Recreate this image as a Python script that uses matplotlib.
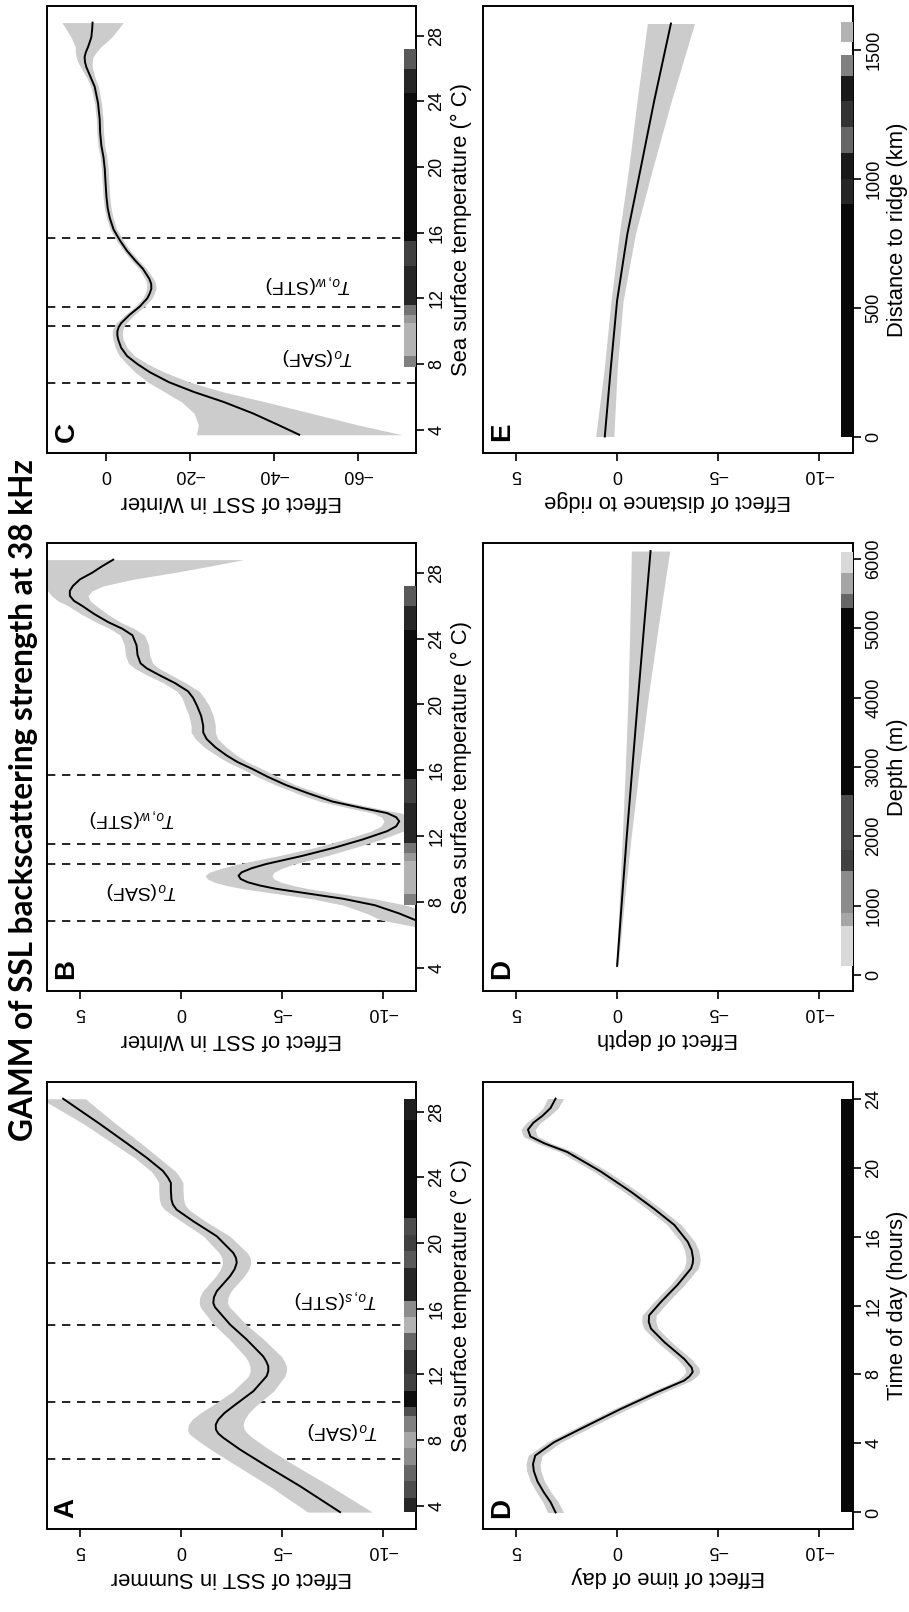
import matplotlib
matplotlib.use("Agg")
import matplotlib.pyplot as plt
from matplotlib.patches import Rectangle

plt.rcParams['font.family'] = ['Liberation Sans', 'DejaVu Sans']
plt.rcParams['mathtext.fontset'] = 'custom'
plt.rcParams['mathtext.rm'] = 'Liberation Sans'
plt.rcParams['mathtext.it'] = 'Liberation Sans:italic'
plt.rcParams['axes.unicode_minus'] = True

# ---------------- data ----------------
title = "GAMM of SSL backscattering strength at 38 kHz"

# Panel A: SST in summer
sstA = [3.62, 5.2, 6.42, 7.43, 8.14, 8.4, 8.65, 8.95, 9.26, 9.65, 10.07, 10.98, 11.9, 12.2, 12.5, 12.8,
        13.1, 14.13, 15.04, 15.86, 16.1, 16.36, 16.7, 17.07, 17.99, 18.4, 18.8, 19.1, 19.4, 20.42, 21.33,
        22.04, 22.35, 22.65, 23.2, 23.67, 24.0, 24.39, 25.2, 26.1, 27.26, 28.79]
fitA = [-7.87, -5.89, -4.24, -2.92, -2.1, -1.85, -1.73, -1.72, -1.85, -2.15, -2.59, -3.58, -4.24, -4.32,
        -4.32, -4.22, -4.07, -3.25, -2.43, -1.85, -1.68, -1.6, -1.63, -1.77, -2.43, -2.65, -2.76, -2.72,
        -2.59, -1.77, -0.61, 0.22, 0.4, 0.47, 0.5, 0.5, 0.65, 0.89, 1.7, 2.7, 4.02, 5.83]
ciA = [1.6, 1.5, 1.45, 1.45, 1.45, 1.45, 1.4, 1.35, 1.3, 1.2, 1.1, 1.0, 0.9, 0.9, 0.9, 0.9, 0.9, 0.85,
       0.8, 0.75, 0.72, 0.7, 0.7, 0.7, 0.7, 0.7, 0.7, 0.7, 0.7, 0.65, 0.6, 0.6, 0.6, 0.6, 0.6, 0.6, 0.6,
       0.6, 0.6, 0.7, 0.8, 1.1]
frontsA = [6.85, 10.3, 15.0, 18.8]

# Panel B: SST in winter
sstB = [6.0, 6.5, 6.9, 7.3, 7.8, 8.2, 8.6, 8.8, 9.0, 9.2, 9.4, 9.6, 9.8, 10.05, 10.3, 10.8, 11.3, 11.8,
        12.3, 12.6, 12.9, 13.15, 13.4, 13.7, 14.1, 14.6, 15.1, 15.6, 16.1, 16.5, 16.9, 17.4, 17.9, 18.3,
        18.7, 19.3, 19.9, 20.4, 20.8, 21.3, 21.8, 22.2, 22.5, 23.0, 23.6, 24.2, 24.6, 25.0, 25.5, 26.0,
        26.3, 26.6, 26.9, 27.2, 27.6, 28.0, 28.4, 28.8]
fitB = [-15.5, -13.5, -11.6, -10.8, -9.6, -8.0, -5.8, -4.7, -3.9, -3.3, -2.95, -2.85, -3.0, -3.5, -4.2,
        -6.0, -7.6, -9.0, -10.2, -10.65, -10.8, -10.65, -10.2, -9.0, -7.5, -6.3, -5.2, -4.3, -3.5, -2.8,
        -2.26, -1.7, -1.27, -1.1, -1.1, -1.0, -0.8, -0.6, -0.35, 0.3, 1.1, 1.7, 2.0, 2.15, 2.2, 2.4, 2.9,
        3.6, 4.3, 4.9, 5.3, 5.5, 5.5, 5.35, 5.0, 4.4, 3.9, 3.35]
ciB = [2.0, 1.9, 1.7, 1.6, 1.55, 1.55, 1.6, 1.62, 1.65, 1.65, 1.65, 1.65, 1.6, 1.5, 1.4, 1.2, 1.0, 0.9,
       0.8, 0.75, 0.75, 0.72, 0.7, 0.65, 0.6, 0.55, 0.5, 0.5, 0.5, 0.5, 0.5, 0.55, 0.55, 0.6, 0.6, 0.6,
       0.6, 0.55, 0.55, 0.55, 0.6, 0.6, 0.6, 0.6, 0.6, 0.6, 0.6, 0.6, 0.65, 0.7, 0.8, 0.9, 1.1, 1.5,
       2.6, 4.0, 5.3, 6.45]
frontsW = [6.85, 10.3, 11.5, 15.7]

# Panel C: SST in winter (full range)
sstC = [3.7, 4.3, 5.0, 5.7, 6.3, 6.9, 7.5, 8.0, 8.5, 9.0, 9.5, 9.75, 10.0, 10.25, 10.5, 11.0, 11.5, 12.0,
        12.3, 12.6, 12.9, 13.2, 13.8, 14.3, 14.9, 15.5, 16.2, 16.9, 17.5, 18.2, 19.0, 19.9, 20.6, 21.3,
        22.1, 22.9, 23.9, 24.9, 25.5, 26.1, 26.4, 26.7, 27.0, 27.3, 27.9, 28.4, 28.8]
fitC = [-46, -41, -35, -28, -21, -15, -10.5, -7.5, -5.0, -3.6, -2.9, -2.7, -2.7, -3.0, -3.6, -5.6, -8.0,
        -9.8, -10.4, -10.8, -10.75, -10.3, -8.8, -7.0, -5.0, -3.4, -1.8, -0.9, -0.4, -0.1, 0.1, 0.3, 0.6,
        1.1, 1.4, 1.5, 1.9, 2.7, 3.7, 4.7, 5.0, 5.1, 4.8, 4.3, 3.5, 3.3, 3.2]
ciC = [24.5, 19, 14, 10, 7, 5, 3.5, 2.5, 1.8, 1.4, 1.2, 1.2, 1.2, 1.2, 1.2, 1.1, 1.1, 1.1, 1.1, 1.1,
       1.05, 1.0, 0.9, 0.9, 0.8, 0.8, 0.8, 0.8, 0.8, 0.8, 0.8, 0.8, 0.8, 0.8, 0.8, 0.8, 0.8, 0.9, 1.0,
       1.4, 1.7, 2.0, 2.5, 3.0, 4.8, 6.2, 7.3]

# Panel D: time of day
timeD = [0.0, 0.6, 1.16, 1.8, 2.4, 2.8, 3.3, 4.07, 5.04, 6.0, 6.98, 7.65, 7.9, 8.14, 8.4, 8.9, 9.88,
         10.66, 11.05, 11.43, 12.2, 13.2, 14.15, 14.45, 14.7, 15.2, 15.7, 16.67, 17.6, 18.6, 19.77, 20.9,
         21.4, 21.8, 22.2, 22.6, 23.0, 23.45, 24.0]
fitTime = [3.05, 3.3, 3.63, 3.95, 4.13, 4.17, 4.06, 3.13, 1.48, -0.18, -2.0, -3.33, -3.6, -3.75, -3.7,
           -3.33, -2.34, -1.68, -1.57, -1.59, -2.17, -3.0, -3.67, -3.75, -3.77, -3.7, -3.5, -2.84, -1.84,
           -0.68, 0.81, 2.47, 3.6, 4.3, 4.42, 4.15, 3.7, 3.3, 3.05]
ciTime = [0.4, 0.38, 0.36, 0.35, 0.35, 0.35, 0.35, 0.35, 0.35, 0.35, 0.35, 0.35, 0.35, 0.35, 0.35, 0.35,
          0.35, 0.35, 0.35, 0.35, 0.35, 0.35, 0.35, 0.35, 0.35, 0.35, 0.35, 0.35, 0.35, 0.35, 0.35, 0.35,
          0.35, 0.35, 0.35, 0.35, 0.36, 0.38, 0.4]

# Panel D: depth
depthD = [130, 1000, 2000, 3000, 4000, 5000, 6116]
fitDepth = [0.0, -0.22, -0.48, -0.76, -1.04, -1.33, -1.66]
ciDepth = [0.05, 0.12, 0.22, 0.35, 0.5, 0.7, 0.95]

# Panel E: distance to ridge
distE = [0, 268, 527, 786, 1044, 1302, 1602]
fitDist = [0.61, 0.31, 0.0, -0.51, -1.18, -1.84, -2.67]
ciDist = [0.45, 0.32, 0.3, 0.4, 0.6, 0.85, 1.17]

# rugs: (start, end, darkness)
rugSummer = [(3.6, 4.5, 0.85), (4.5, 5.5, 0.7), (5.5, 6.5, 0.6), (6.5, 7.5, 0.45), (7.5, 8.5, 0.35),
             (8.5, 9.5, 0.5), (9.5, 10.0, 0.7), (10.0, 11.0, 0.95), (11.0, 12.0, 0.75), (12.0, 13.5, 0.8),
             (13.5, 14.5, 0.6), (14.5, 15.5, 0.3), (15.5, 16.5, 0.45), (16.5, 18.5, 0.85), (18.5, 19.5, 0.65),
             (19.5, 20.5, 0.75), (20.5, 21.5, 0.7), (21.5, 27.5, 0.95), (27.5, 28.8, 0.88)]
rugWinter = [(7.8, 8.5, 0.5), (8.5, 10.5, 0.3), (10.5, 11.0, 0.4), (11.0, 11.6, 0.55), (11.6, 14.0, 0.85),
             (14.0, 15.5, 0.75), (15.5, 24.5, 0.95), (24.5, 26.0, 0.85), (26.0, 27.2, 0.65)]
rugTime = [(0, 24, 0.97)]
rugDepth = [(130, 700, 0.15), (700, 900, 0.35), (900, 1500, 0.45), (1500, 1800, 0.75), (1800, 2600, 0.7),
            (2600, 5300, 0.97), (5300, 5500, 0.6), (5500, 5800, 0.35), (5800, 6100, 0.15)]
rugDist = [(0, 900, 0.97), (900, 1000, 0.85), (1000, 1100, 0.9), (1100, 1200, 0.6), (1200, 1300, 0.8),
           (1300, 1400, 0.9), (1400, 1480, 0.5), (1530, 1606, 0.3)]

effTicks = [5, 0, -5, -10]
effLabels = ['5', '0', '\u22125', '\u221210']
effTicksC = [0, -20, -40, -60]
effLabelsC = ['0', '\u221220', '\u221240', '\u221260']
sstTicks = [4, 8, 12, 16, 20, 24, 28]
timeTicks = [0, 4, 8, 12, 16, 20, 24]
depthTicks = [0, 1000, 2000, 3000, 4000, 5000, 6000]
distTicks = [0, 500, 1000, 1500]

# ---------------- layout ----------------
W, H = 909, 1612
fig = plt.figure(figsize=(W / 100, H / 100), dpi=100)


def rect(l, r, t, b):
    return [l / W, 1 - b / H, (r - l) / W, (b - t) / H]


BAND = '#CCCCCC'
TICK_FS = 13
LAB_FS = 15.8
NOTE_FS = 14


def panel(r, x, fit, ci, elim, eticks, elabels, ylim, yticks, xlabel, ylabel, letter, rug,
          fronts=None, notes=None):
    ax = fig.add_axes(r)
    lo = [f - c for f, c in zip(fit, ci)]
    hi = [f + c for f, c in zip(fit, ci)]
    if fronts:
        for v in fronts:
            ax.axhline(v, color='black', lw=1.2, ls=(0, (5, 4)), zorder=0.5)
    ax.fill_betweenx(x, lo, hi, color=BAND, lw=0, zorder=1)
    ax.plot(fit, x, color='black', lw=1.4, zorder=2, solid_joinstyle='round')
    for a, b, d in rug:
        g = 1 - d
        ax.add_patch(Rectangle((0.967, a), 0.033, b - a, transform=ax.get_yaxis_transform(),
                               facecolor=(g, g, g), edgecolor='none', zorder=3))
    if notes:
        for (ex, sy, txt) in notes:
            ax.text(ex, sy, txt, rotation=180, ha='center', va='center', fontsize=NOTE_FS, zorder=4)
    ax.set_xlim(elim)
    ax.set_ylim(ylim)
    ax.set_xticks(eticks)
    ax.set_xticklabels(elabels)
    ax.set_yticks(yticks)
    ax.set_yticklabels([str(v) for v in yticks])
    ax.yaxis.tick_right()
    ax.tick_params(axis='x', direction='out', length=5.8, width=1.2, pad=3.5, labelsize=TICK_FS,
                   labelrotation=180)
    ax.tick_params(axis='y', direction='out', length=5.8, width=1.2, pad=3.0, labelsize=TICK_FS,
                   labelrotation=90, left=False, right=True, labelleft=False, labelright=True)
    for lab in ax.get_yticklabels():
        lab.set_va('center')
        lab.set_ha('left')
    for s in ax.spines.values():
        s.set_linewidth(1.4)
    ax.set_xlabel(xlabel, rotation=180, fontsize=LAB_FS, ha='center', va='center')
    ax.xaxis.set_label_coords(0.5, -48 / (r[3] * H))
    ax.yaxis.set_label_position('right')
    ax.set_ylabel(ylabel, rotation=90, fontsize=LAB_FS, ha='center', va='center')
    ax.yaxis.set_label_coords(1 + 45 / (r[2] * W), 0.5)
    ax.text(0.053, 0.048, letter, transform=ax.transAxes, rotation=90, ha='center', va='center',
            fontsize=20, fontweight='bold', zorder=5)
    return ax


L = (47, 416)
R = (483, 853)
ROW0 = (6, 453)
ROW1 = (543, 991)
ROW2 = (1082, 1529)
sstLim = (2.59, 29.81)
sstLab = 'Sea surface temperature (\u00b0 C)'

panel(rect(L[0], L[1], *ROW2), sstA, fitA, ciA, (6.63, -11.63), effTicks, effLabels, sstLim, sstTicks,
      'Effect of SST in Summer', sstLab, 'A', rugSummer, frontsA,
      [(-8.0, 8.6, r'$T_o$(SAF)'), (-7.7, 16.6, r'$T_{o,s}$(STF)')])
panel(rect(L[0], L[1], *ROW1), sstB, fitB, ciB, (6.63, -11.63), effTicks, effLabels, sstLim, sstTicks,
      'Effect of SST in Winter', sstLab, 'B', rugWinter, frontsW,
      [(1.9, 8.7, r'$T_o$(SAF)'), (2.4, 13.1, r'$T_{o,w}$(STF)')])
panel(rect(L[0], L[1], *ROW0), sstC, fitC, ciC, (14.05, -73.8), effTicksC, effLabelsC, sstLim, sstTicks,
      'Effect of SST in Winter', sstLab, 'C', rugWinter, frontsW,
      [(-50.5, 8.45, r'$T_o$(SAF)'), (-48.3, 12.9, r'$T_{o,w}$(STF)')])
panel(rect(R[0], R[1], *ROW2), timeD, fitTime, ciTime, (6.65, -11.7), effTicks, effLabels, (-0.96, 24.96),
      timeTicks, 'Effect of time of day', 'Time of day (hours)', 'D', rugTime)
panel(rect(R[0], R[1], *ROW1), depthD, fitDepth, ciDepth, (6.65, -11.7), effTicks, effLabels, (-232, 6232),
      depthTicks, 'Effect of depth', 'Depth (m)', 'D', rugDepth)
panel(rect(R[0], R[1], *ROW0), distE, fitDist, ciDist, (6.65, -11.7), effTicks, effLabels, (-64, 1670),
      distTicks, 'Effect of distance to ridge', 'Distance to ridge (km)', 'E', rugDist)

t = fig.text(24 / W, 1 - 800 / H, title, rotation=90, ha='center', va='center', fontsize=20,
             fontweight='bold', family=['Lato', 'DejaVu Sans'])
fig.canvas.draw()
bb = t.get_window_extent()
t.set_fontsize(20 * 684 / bb.height)

fig.savefig('out.png', dpi=100)
